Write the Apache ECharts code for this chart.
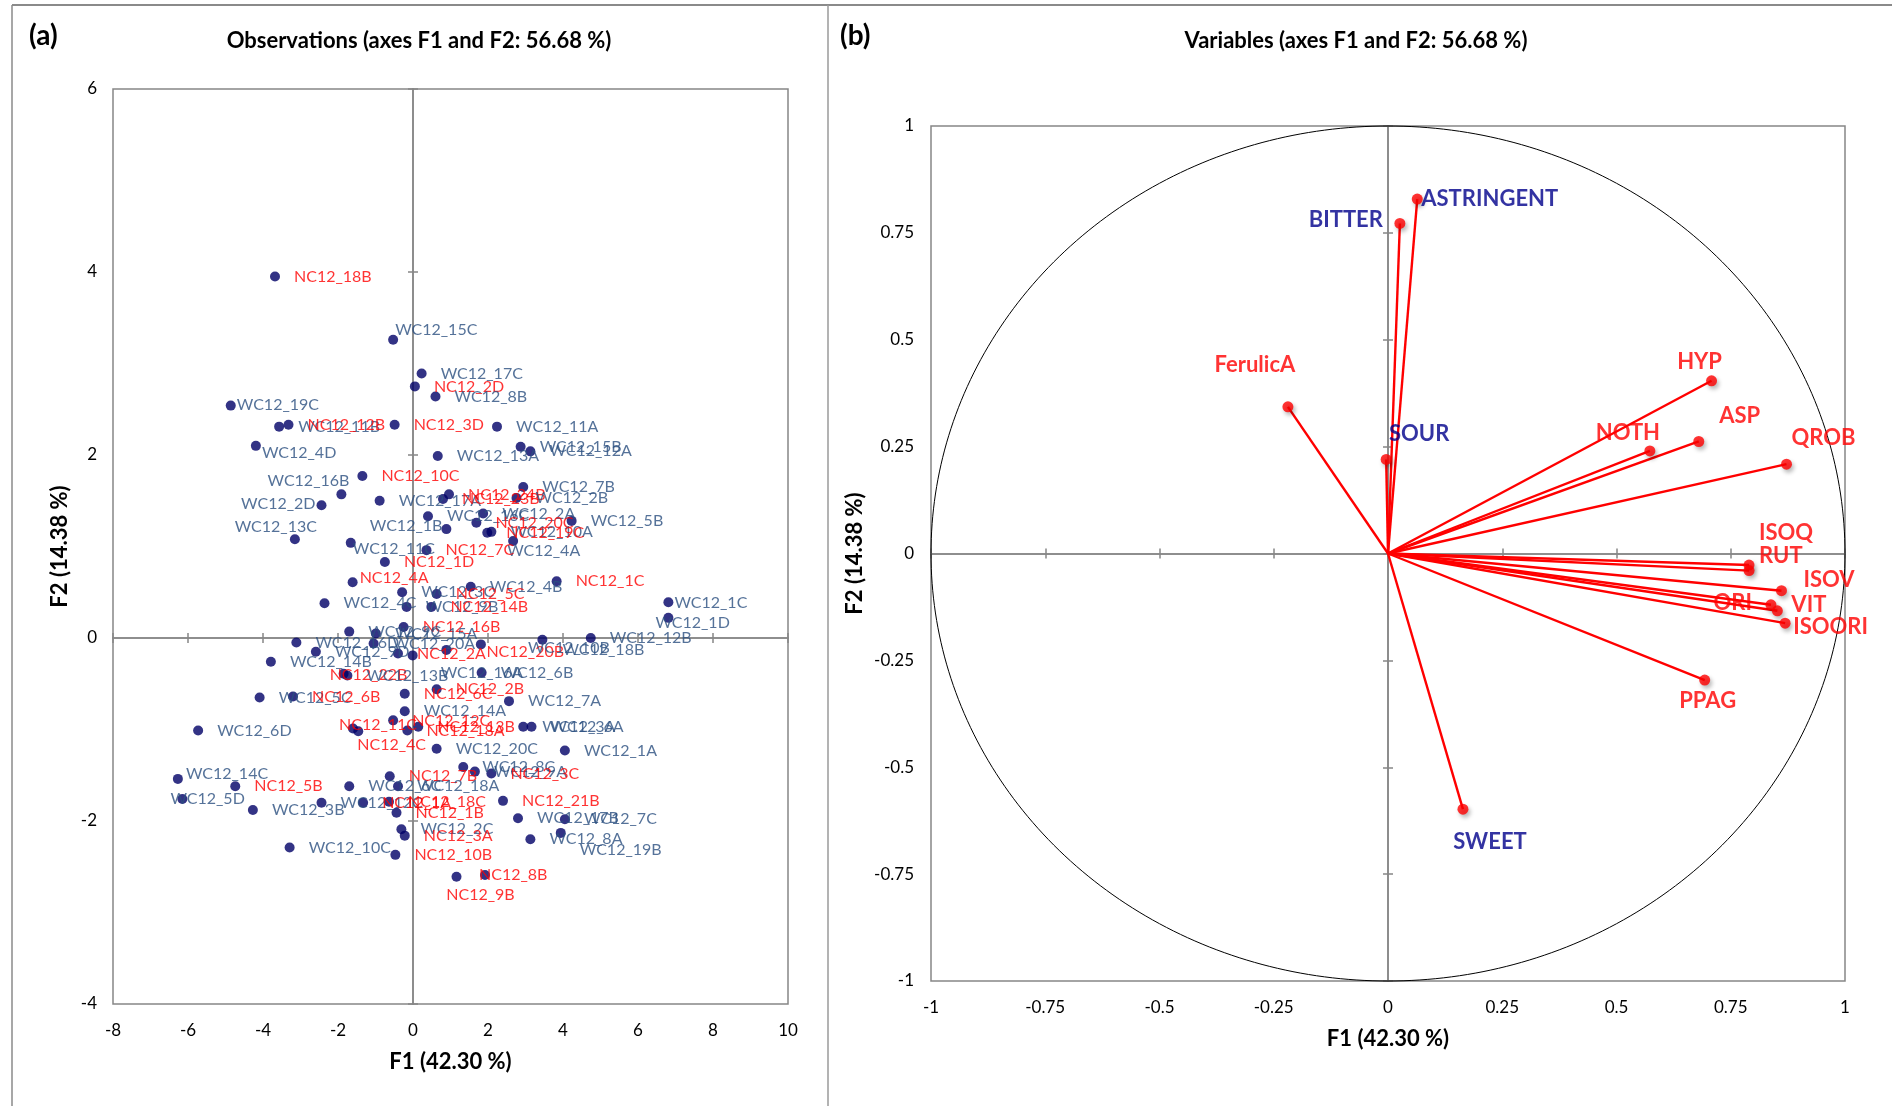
<!DOCTYPE html>
<html><head><meta charset="utf-8">
<script src="https://cdn.jsdelivr.net/npm/echarts@6/dist/echarts.min.js"></script>
<style>html,body{margin:0;padding:0;background:#fff}#c{width:1892px;height:1106px}</style>
</head><body><div id="c"></div>
<script>
// ---------- Observations (panel a) ----------
const obsNames = [
 'NC12_18B','WC12_15C','WC12_17C','NC12_2D','WC12_8B','WC12_19C','WC12_11B','NC12_12B','NC12_3D','WC12_11A',
 'WC12_4D','WC12_15B','WC12_12A','WC12_13A','NC12_10C','WC12_16B','WC12_2D','WC12_17A','NC12_24B','NC12_23B',
 'WC12_7B','WC12_2B','WC12_2A','WC12_16C','WC12_1B','NC12_20C','WC12_10A','NC12_19C','WC12_5B','WC12_4A',
 'WC12_13C','WC12_11C','NC12_7C','NC12_1D','NC12_4A','NC12_1C','WC12_4B','WC12_3C','NC12_5C','WC12_4C',
 'WC12_9B','NC12_14B','WC12_1C','WC12_1D','NC12_16B','WC12_15A','WC12_9C','WC12_16D','WC12_20A','WC12_9D',
 'NC12_2A','WC12_16A','WC12_14B','NC12_22B','WC12_13B','NC12_6C','WC12_5C','NC12_6B','WC12_14A','NC12_12C',
 'NC12_11C','NC12_4C','NC12_18A','NC12_13B','WC12_6D','NC12_20B','WC12_10B','WC12_18B','WC12_12B','WC12_6B',
 'NC12_2B','WC12_7A','WC12_3A','WC12_6A','WC12_1A','WC12_8C','WC12_9A','NC12_3C','NC12_21B','WC12_17B',
 'WC12_7C','WC12_8A','WC12_19B','NC12_9B','NC12_8B','WC12_14C','WC12_5D','NC12_5B','WC12_3B','WC12_10C',
 'NC12_10B','WC12_6C','WC12_12C','NC12_7B','WC12_18A','NC12_18C','NC12_1B','NC12_1A','WC12_2C','NC12_3A',
 'WC12_20C'
];
const obsF1 = [
 -3.68,-0.53,0.23,0.05,0.60,-4.86,-3.57,-3.32,-0.49,2.24,
 -4.19,2.87,3.13,0.66,-1.35,-1.91,-2.44,-0.89,0.96,0.80,
 2.94,2.76,1.87,0.40,0.89,1.69,2.09,1.98,4.23,2.67,
 -3.15,-1.66,0.36,-0.75,-1.61,3.83,1.54,-0.29,0.63,-2.36,
 -0.17,0.49,6.81,6.81,-0.25,-0.99,-1.70,-3.11,-1.05,-2.59,
 -0.40,-0.01,-3.79,-1.85,-1.75,-0.22,-4.09,-3.20,-0.22,-0.53,
 -1.60,-1.46,-0.15,0.14,-5.73,0.89,1.81,3.45,4.74,1.83,
 0.63,2.56,2.94,3.16,4.05,1.34,1.65,2.09,2.40,2.80,
 4.05,3.13,3.94,1.16,1.92,-6.27,-6.15,-4.74,-4.27,-3.29,
 -0.47,-1.70,-2.44,-0.62,-0.40,-0.64,-0.44,-1.33,-0.31,-0.22,
 0.63
];
const obsF2 = [
 3.95,3.26,2.89,2.75,2.64,2.54,2.31,2.33,2.33,2.31,
 2.10,2.09,2.04,1.99,1.77,1.57,1.45,1.50,1.57,1.52,
 1.65,1.53,1.36,1.33,1.19,1.26,1.16,1.15,1.28,1.06,
 1.08,1.04,0.96,0.83,0.61,0.62,0.56,0.50,0.48,0.38,
 0.34,0.34,0.39,0.22,0.12,0.05,0.07,-0.05,-0.06,-0.15,
 -0.17,-0.19,-0.26,-0.39,-0.41,-0.61,-0.65,-0.64,-0.80,-0.90,
 -0.99,-1.02,-1.01,-0.97,-1.01,-0.13,-0.07,-0.02,0.00,-0.38,
 -0.56,-0.69,-0.97,-0.97,-1.23,-1.41,-1.46,-1.48,-1.78,-1.97,
 -1.98,-2.20,-2.13,-2.61,-2.59,-1.54,-1.76,-1.62,-1.88,-2.29,
 -2.37,-1.62,-1.80,-1.51,-1.62,-1.79,-1.91,-1.80,-2.09,-2.16,
 -1.21
];

const obsXTicks = {min: -8, max: 10, step: 2};
const obsYTicks = {min: -4, max: 6, step: 2};

// label placement for observations that are not simply to the right (style only, px from marker centre)
const obsLabelPlace = {
  WC12_15C:{d:[2,-10],align:'left'},
  WC12_19C:{d:[6,-1],align:'left'},
  WC12_4D:{d:[6,7],align:'left'},
  WC12_16B:{d:[8,-14],align:'right'},
  WC12_2D:{d:[-6,-1],align:'right'},
  WC12_13C:{d:[22,-12],align:'right'},
  WC12_1B:{d:[-4,-3],align:'right'},
  WC12_11C:{d:[2,6],align:'left'},
  WC12_4A:{d:[-6,10],align:'left'},
  NC12_4A:{d:[7,-4],align:'left'},
  WC12_1C:{d:[6,1],align:'left'},
  WC12_1D:{d:[-13,5],align:'left'},
  WC12_18B:{d:[20,10],align:'left'},
  WC12_10B:{d:[47,3],align:'left'},
  NC12_20B:{d:[40,2],align:'left'},
  WC12_16A:{d:[28,17],align:'left'},
  NC12_22B:{d:[-14,1],align:'left'},
  NC12_4C:{d:[-1,14],align:'left'},
  NC12_11C:{d:[-14,-4],align:'left'},
  WC12_14C:{d:[8,-5],align:'left'},
  WC12_5D:{d:[-12,0],align:'left'},
  WC12_19B:{d:[19,17],align:'left'},
  NC12_8B:{d:[-6,0],align:'left'},
  NC12_9B:{d:[24,18],align:'center'}
};

// ---------- Variables (panel b) ----------
const varNames = ['BITTER','ASTRINGENT','FerulicA','SOUR','HYP','NOTH','ASP','QROB','ISOQ','RUT','ISOV','ORI','VIT','ISOORI','PPAG','SWEET'];
const varF1 = [0.026,0.064,-0.219,-0.004,0.708,0.573,0.680,0.872,0.790,0.790,0.861,0.838,0.852,0.869,0.693,0.164];
const varF2 = [0.772,0.829,0.343,0.220,0.404,0.240,0.262,0.209,-0.027,-0.040,-0.087,-0.120,-0.134,-0.163,-0.296,-0.598];
const sensoryVars = ['BITTER','ASTRINGENT','SOUR','SWEET'];

const varXTicks = {min: -1, max: 1, step: 0.25};
const varYTicks = {min: -1, max: 1, step: 0.25};

const varLabelPlace = {
  BITTER:{d:[-17,-4],align:'right'},
  ASTRINGENT:{d:[4,0],align:'left'},
  FerulicA:{d:[-33,-42],align:'center'},
  SOUR:{d:[33,-26],align:'center'},
  HYP:{d:[-12,-19],align:'center'},
  NOTH:{d:[-22,-18],align:'center'},
  ASP:{d:[41,-26],align:'center'},
  QROB:{d:[37,-26],align:'center'},
  ISOQ:{d:[37,-32],align:'center'},
  RUT:{d:[10,-15],align:'left'},
  ISOV:{d:[22,-11],align:'left'},
  ORI:{d:[-19,-2],align:'right'},
  VIT:{d:[14,-6],align:'left'},
  ISOORI:{d:[8,4],align:'left'},
  PPAG:{d:[3,21],align:'center'},
  SWEET:{d:[27,33],align:'center'}
};

const FONT = 'Lato, "Open Sans", sans-serif';
const AXC = '#868686';
const VSYM = 11;
const OSYM = 10;

const chart = echarts.init(document.getElementById('c'), null, {renderer:'canvas'});

function axesFor(grid, t, isX, nameTxt, nameGap, labelMargin){
  const base = {gridIndex:grid, type:'value', min:t.min, max:t.max, interval:t.step, splitLine:{show:false}};
  const lab = Object.assign({}, base, {
    axisLine:{show:false, onZero:false}, axisTick:{show:false},
    axisLabel:{fontFamily:FONT, fontSize:17, color:'#000', margin:labelMargin, showMinLabel:true, showMaxLabel:true},
    name:nameTxt, nameLocation:'middle', nameGap:nameGap,
    nameTextStyle:{fontFamily:FONT, fontWeight:'bold', fontSize:22, color:'#000'}
  });
  lab.position = isX ? 'bottom' : 'left';
  const z1 = Object.assign({}, base, {
    axisLine:{show:true, onZero:true, lineStyle:{color:AXC, width:1.5}},
    axisTick:{show:true, inside:true, length:5, lineStyle:{color:AXC, width:1.5}},
    axisLabel:{show:false}
  });
  const z2 = Object.assign({}, base, {
    axisLine:{show:true, onZero:true, lineStyle:{color:AXC, width:1.5}},
    axisTick:{show:true, inside:false, length:5, lineStyle:{color:AXC, width:1.5}},
    axisLabel:{show:false}
  });
  return [lab, z1, z2];
}

const xAxes = [].concat(
  axesFor(0, obsXTicks, true, 'F1 (42.30 %)', 47, 18),
  axesFor(1, varXTicks, true, 'F1 (42.30 %)', 47, 18)
);
const yAxes = [].concat(
  axesFor(0, obsYTicks, false, 'F2 (14.38 %)', 42, 16),
  axesFor(1, varYTicks, false, 'F2 (14.38 %)', 65, 17)
);

const obsData = obsNames.map((n,i)=>{
  const isNC = n.indexOf('NC')===0;
  const pl = obsLabelPlace[n];
  const label = {color:isNC?'#FF0000':'#2A4F7F'};
  if (pl){
    label.position = [OSYM/2 + pl.d[0], OSYM/2 + pl.d[1]];
    label.align = pl.align; label.verticalAlign = 'middle';
  } else {
    label.position = 'right';
  }
  return {name:n, value:[obsF1[i], obsF2[i]], label:label};
});

const varData = varNames.map((n,i)=>{
  const pl = varLabelPlace[n];
  return {name:n, value:[varF1[i], varF2[i]], label:{
    position:[VSYM/2 + pl.d[0], VSYM/2 + pl.d[1]], align:pl.align, verticalAlign:'middle',
    color: sensoryVars.indexOf(n)>=0 ? '#00008B' : '#FF0000'}};
});

const option = {
  animation:false,
  backgroundColor:'#fff',
  grid:[
    {left:113, top:89, width:675, height:915, show:true, borderColor:AXC, borderWidth:1.5, backgroundColor:'transparent', outerBoundsMode:'none'},
    {left:931, top:126, width:914, height:855, show:true, borderColor:AXC, borderWidth:1.5, backgroundColor:'transparent', outerBoundsMode:'none'}
  ],
  xAxis:xAxes,
  yAxis:yAxes,
  series:[
    {type:'scatter', xAxisIndex:0, yAxisIndex:0, symbolSize:OSYM, itemStyle:{color:'#000066'},
     label:{show:true, formatter:'{b}', fontFamily:FONT, fontSize:16, distance:14},
     labelLayout:{hideOverlap:false},
     data:obsData, z:5},
    {type:'custom', xAxisIndex:3, yAxisIndex:3, data:[[0,0]], silent:true, z:2,
     renderItem:function(p, api){
       const pts=[];
       for(let i=0;i<=360;i++){const t=i*Math.PI/180; pts.push(api.coord([Math.cos(t), Math.sin(t)]));}
       return {type:'polyline', shape:{points:pts}, style:{stroke:'#000', lineWidth:1, fill:null}};
     }},
    {type:'custom', xAxisIndex:3, yAxisIndex:3, silent:true, z:3,
     data:varNames.map((n,i)=>[varF1[i], varF2[i]]),
     renderItem:function(p, api){
       const o=api.coord([0,0]); const e=api.coord([api.value(0), api.value(1)]);
       return {type:'line', shape:{x1:o[0],y1:o[1],x2:e[0],y2:e[1]}, style:{stroke:'#FF0000', lineWidth:2.4}};
     }},
    {type:'scatter', xAxisIndex:3, yAxisIndex:3, symbolSize:VSYM,
     itemStyle:{color:'#FF0000', shadowBlur:4, shadowColor:'rgba(0,0,0,0.35)', shadowOffsetX:2, shadowOffsetY:3},
     label:{show:true, formatter:'{b}', fontFamily:FONT, fontSize:22, fontWeight:'bold'},
     labelLayout:{hideOverlap:false},
     data:varData, z:5}
  ],
  graphic:[
    {type:'line', shape:{x1:12,y1:5,x2:1892,y2:5}, style:{stroke:'#8a8a8a', lineWidth:2}, silent:true},
    {type:'line', shape:{x1:12,y1:5,x2:12,y2:1106}, style:{stroke:'#8a8a8a', lineWidth:1.5}, silent:true},
    {type:'line', shape:{x1:828,y1:5,x2:828,y2:1106}, style:{stroke:'#9a9a9a', lineWidth:1.5}, silent:true},
    {type:'text', x:29, y:36, style:{text:'(a)', font:'bold 28px '+FONT, fill:'#000', verticalAlign:'middle'}},
    {type:'text', x:840, y:36, style:{text:'(b)', font:'bold 28px '+FONT, fill:'#000', verticalAlign:'middle'}},
    {type:'text', x:419, y:41, style:{text:'Observations (axes F1 and F2: 56.68 %)', font:'bold 22px '+FONT, fill:'#000', align:'center', verticalAlign:'middle'}},
    {type:'text', x:1356, y:41, style:{text:'Variables (axes F1 and F2: 56.68 %)', font:'bold 22px '+FONT, fill:'#000', align:'center', verticalAlign:'middle'}}
  ]
};
chart.setOption(option);
</script>
</body></html>
